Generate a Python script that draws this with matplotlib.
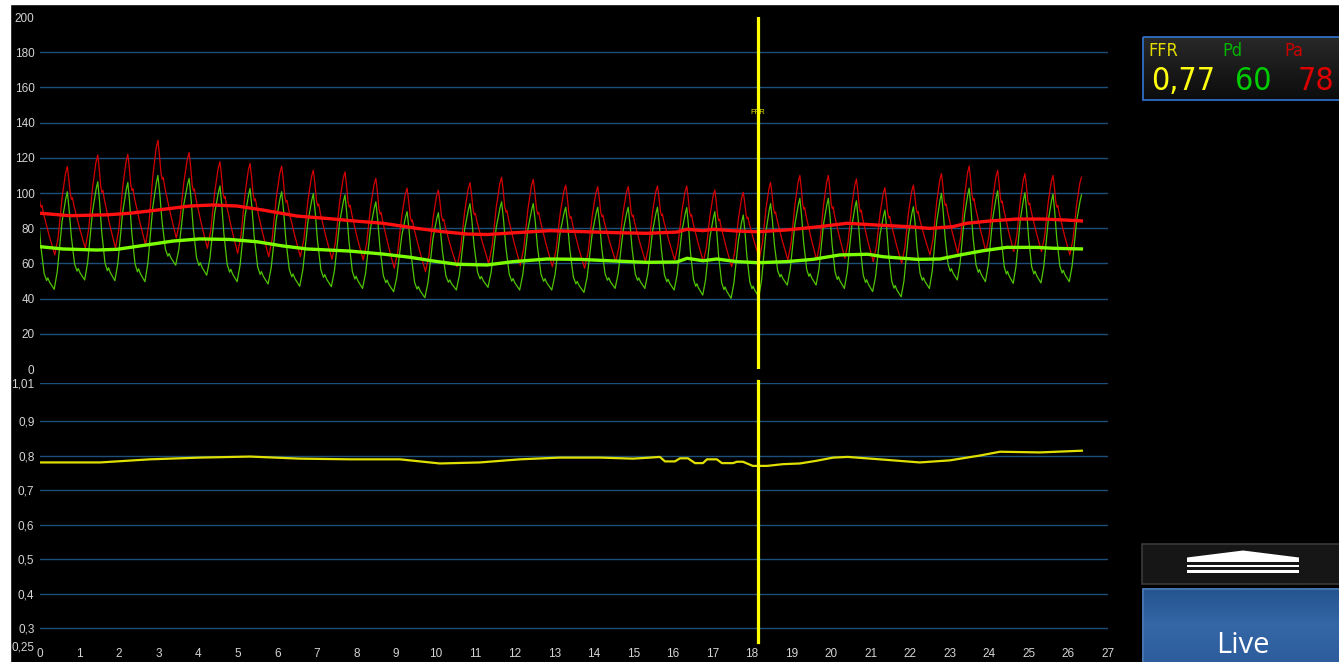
import matplotlib
matplotlib.use("Agg")
import matplotlib.pyplot as plt
from matplotlib.patches import Rectangle, Polygon
from matplotlib.colors import LinearSegmentedColormap
from matplotlib import font_manager
from matplotlib.font_manager import FontProperties
import numpy as np

# ---------------------------------------------------------------------------
# Beat-by-beat pressure data (mmHg); times in seconds of each systolic peak.
# Entry 0 is the beat whose downslope opens the recording.
# ---------------------------------------------------------------------------
peak_times = [-0.08, 0.69, 1.46, 2.22, 2.98, 3.77, 4.55, 5.31, 6.11, 6.91, 7.71,
              8.49, 9.28, 10.07, 10.87, 11.67, 12.47, 13.29, 14.10, 14.87, 15.61,
              16.35, 17.06, 17.78, 18.47, 19.21, 19.93, 20.64, 21.36, 22.08, 22.79,
              23.49, 24.21, 24.90, 25.61, 26.33]

pa_systolic = [110, 115, 121.6, 122, 130, 123, 117.8, 116.8, 115.3, 113, 112,
               108.4, 102.8, 101.7, 105.9, 109, 107.8, 104.5, 103.6, 103.6, 104,
               104, 101.7, 100.4, 106, 110, 110, 108, 103, 104.5, 111,
               115.3, 113, 111, 110, 109]
# diastolic minimum preceding peaks 1..35
pa_diastolic = [64.8, 68.6, 68.6, 70.5, 74.4, 68.6, 65.7, 63.8, 63.8, 62.3,
                61.9, 57.2, 55.3, 58.1, 60, 59, 58.1, 57.2, 61, 61,
                61.9, 61, 58.1, 62.9, 61.9, 61.9, 62.9, 61, 60, 64.8,
                65.7, 66.7, 66.7, 66.7, 64.8]

pd_systolic = [95, 100.7, 106.4, 106, 110, 108.3, 104, 102.6, 100.7, 99.6, 98.9,
               95, 89.4, 88.8, 94, 95, 94, 91.9, 91.9, 91.9, 91.9,
               91.7, 89.4, 87.5, 94, 97, 97, 95.6, 90.3, 92.2, 99.8,
               102.7, 101.3, 100.2, 99.4, 98.9]
pd_diastolic = [45.3, 50.6, 50.2, 49.6, 59, 53.3, 49.6, 48.3, 47, 46.8,
                45.8, 43.9, 40.5, 44.9, 46.4, 44.9, 44.9, 43.5, 45.8, 45.8,
                44.9, 42, 40.2, 41, 47.7, 47.7, 45.8, 44, 41, 45.8,
                50.6, 49.6, 48.7, 48.9, 49.6]

# Running means
mean_pa_t = [0.00, 0.76, 1.69, 2.28, 3.11, 3.79, 4.37, 4.98, 5.64, 6.50, 7.33,
             7.84, 8.67, 9.53, 10.19, 10.79, 11.30, 12.06, 12.89, 14.08, 14.48,
             15.34, 16.10, 16.36, 16.76, 17.01, 17.62, 18.15, 18.88, 19.72, 20.40,
             21.16, 21.92, 22.50, 23.08, 23.43, 24.01, 24.70, 25.35, 25.86, 26.37]
mean_pa = [88.5, 87.1, 87.6, 88.5, 90.7, 92.6, 93.2, 92.6, 90.3, 86.9, 85.4,
           84.3, 82.8, 79.9, 78.0, 76.7, 76.4, 77.5, 78.6, 77.8, 77.5,
           77.1, 77.8, 79.4, 78.6, 79.4, 78.4, 78.0, 79.0, 80.9, 82.8,
           81.8, 80.9, 79.9, 80.9, 82.8, 84.1, 85.2, 85.2, 84.7, 84.1]

mean_pd_t = [0.00, 0.58, 1.44, 1.95, 2.70, 3.36, 4.04, 4.80, 5.49, 6.14, 6.75,
             7.84, 8.67, 9.35, 9.93, 10.54, 11.30, 11.96, 12.82, 13.65, 14.48,
             15.34, 16.10, 16.36, 16.76, 17.11, 17.62, 18.15, 18.88, 19.54, 20.22,
             20.93, 21.31, 22.17, 22.75, 23.26, 23.84, 24.44, 25.20, 25.61, 26.37]
mean_pd = [69.5, 68.2, 67.6, 68.0, 70.5, 72.7, 73.9, 73.6, 72.3, 69.9, 68.2,
           67.0, 65.3, 63.5, 61.4, 59.5, 59.1, 61.0, 62.5, 62.3, 61.4,
           60.6, 60.8, 62.9, 61.5, 62.5, 61.0, 60.4, 61.0, 62.3, 64.8,
           65.2, 63.8, 62.3, 62.5, 64.8, 67.2, 69.1, 69.1, 68.6, 68.2]

ffr_t = [0.00, 1.52, 2.78, 4.04, 5.31, 6.57, 7.84, 9.10, 10.11, 11.12, 12.13,
         13.14, 14.16, 14.99, 15.42, 15.67, 15.80, 16.05, 16.18, 16.38, 16.56,
         16.76, 16.86, 17.11, 17.24, 17.52, 17.62, 17.77, 18.02, 18.38, 18.78,
         19.21, 19.64, 20.05, 20.42, 21.23, 22.24, 23.00, 23.76, 24.27, 25.28, 26.34]
ffr = [0.780, 0.780, 0.789, 0.794, 0.797, 0.791, 0.789, 0.789, 0.777, 0.780, 0.789,
       0.794, 0.794, 0.791, 0.794, 0.796, 0.783, 0.783, 0.792, 0.792, 0.778,
       0.778, 0.789, 0.789, 0.778, 0.778, 0.782, 0.782, 0.770, 0.770, 0.775,
       0.777, 0.785, 0.794, 0.796, 0.789, 0.780, 0.786, 0.800, 0.811, 0.809, 0.814]

cursor_time = 18.15
readout_ffr, readout_pd, readout_pa = "0,77", "60", "78"

pressure_ticks = list(range(0, 201, 20))
ffr_ticks = [0.25, 0.3, 0.4, 0.5, 0.6, 0.7, 0.8, 0.9, 1.01]
ffr_tick_labels = ["0,25", "0,3", "0,4", "0,5", "0,6", "0,7", "0,8", "0,9", "1,01"]
time_ticks = list(range(0, 28))

# ---------------------------------------------------------------------------
# Fonts: a condensed face for the readout, if one is installed
# ---------------------------------------------------------------------------
def find_condensed():
    preferred = []
    for f in font_manager.fontManager.ttflist:
        base = f.fname.rsplit("/", 1)[-1]
        if f.style != "normal" or f.weight not in (400, "normal", "regular"):
            continue
        if "LiberationSansNarrow-Regular" in base:
            preferred.append((0, f.fname))
        elif base == "DejaVuSansCondensed.ttf":
            preferred.append((1, f.fname))
        elif "Condensed" in base and "Bold" not in base and "Oblique" not in base \
                and "Italic" not in base:
            preferred.append((2, f.fname))
    if preferred:
        return FontProperties(fname=sorted(preferred)[0][1])
    return None


COND = find_condensed()
TICK_FAMILY = "Liberation Sans"
BUTTON_FONT = "Open Sans"


def cond_props(size):
    if COND is not None:
        p = COND.copy()
        p.set_size(size)
        return p
    return FontProperties(family="Liberation Sans", size=size * 0.8)


# ---------------------------------------------------------------------------
# Beat shapes: (phase within peak-to-peak interval, fraction of amplitude)
# ---------------------------------------------------------------------------
PA_FALL = [(0.05, 0.85), (0.10, 0.66), (0.14, 0.60), (0.17, 0.62), (0.22, 0.52),
           (0.40, 0.25), (0.59, 0.0)]
PA_RISE = [(0.70, 0.20), (0.83, 0.65), (0.94, 0.92), (1.0, 1.0)]
PD_FALL = [(0.06, 0.80), (0.13, 0.50), (0.24, 0.18), (0.32, 0.10), (0.36, 0.13),
           (0.42, 0.08), (0.57, 0.0)]
PD_RISE = [(0.67, 0.18), (0.83, 0.70), (0.95, 0.93), (1.0, 1.0)]


def beat_trace(times, peaks, troughs, fall, rise):
    t, v = [times[0]], [peaks[0]]
    for i in range(len(times) - 1):
        t0, t1 = times[i], times[i + 1]
        period = t1 - t0
        lo = troughs[i]
        for f, a in fall:
            t.append(t0 + f * period)
            v.append(lo + a * (peaks[i] - lo))
        for f, a in rise:
            t.append(t0 + f * period)
            v.append(lo + a * (peaks[i + 1] - lo))
    return t, v


# ---------------------------------------------------------------------------
# Figure
# ---------------------------------------------------------------------------
W, H = 1339, 662
fig = plt.figure(figsize=(W / 100, H / 100), dpi=100, facecolor="black")

bg = fig.add_axes([0, 0, 1, 1])
bg.set_xlim(0, W)
bg.set_ylim(H, 0)
bg.axis("off")
bg.add_patch(Rectangle((0, 0), 10, H, color="white", zorder=0))
bg.add_patch(Rectangle((0, 0), W, 4, color="white", zorder=0))


def px_axes(left, top, right, bottom):
    return fig.add_axes([left / W, 1 - bottom / H, (right - left) / W, (bottom - top) / H])


GRID = "#1d4d78"
TICK = "#d4d4d4"

ax1 = px_axes(40, 17, 1108, 369)
ax2 = px_axes(40, 383, 1108, 645.5)
for ax in (ax1, ax2):
    ax.set_facecolor("none")
    for s in ax.spines.values():
        s.set_visible(False)
    ax.set_xlim(0, 27)
    ax.tick_params(length=0, colors=TICK, labelsize=8.5, pad=4)

# Pressure panel
ax1.set_ylim(0, 200)
ax1.set_yticks(pressure_ticks)
ax1.set_yticklabels([str(v) for v in pressure_ticks], family=TICK_FAMILY)
ax1.set_xticks([])
for v in pressure_ticks[1:-1]:
    ax1.axhline(v, color=GRID, lw=1, zorder=1)

pd_t, pd_v = beat_trace(peak_times, pd_systolic, pd_diastolic, PD_FALL, PD_RISE)
pa_t, pa_v = beat_trace(peak_times, pa_systolic, pa_diastolic, PA_FALL, PA_RISE)
ax1.plot(pd_t, pd_v, color="#4fc400", lw=0.9, zorder=2)
ax1.plot(pa_t, pa_v, color="#d40000", lw=0.9, zorder=3)
ax1.plot(mean_pd_t, mean_pd, color="#7cff00", lw=2.4, zorder=4, solid_capstyle="butt")
ax1.plot(mean_pa_t, mean_pa, color="#ff1010", lw=2.4, zorder=5, solid_capstyle="butt")
ax1.axvline(cursor_time, color="#ffff00", lw=2.3, zorder=6)
ax1.text(cursor_time, 146, "FFR", color="#e8e800", fontsize=5.5, ha="center",
         va="center", family=TICK_FAMILY, zorder=7)

# FFR panel
ax2.set_ylim(0.25, 1.01)
ax2.set_yticks(ffr_ticks)
ax2.set_yticklabels(ffr_tick_labels, family=TICK_FAMILY)
ax2.set_xticks(time_ticks)
ax2.set_xticklabels([str(v) for v in time_ticks], family=TICK_FAMILY)
ax2.tick_params(axis="x", pad=1.5)
for v in ffr_ticks[1:]:
    ax2.axhline(v, color=GRID, lw=1, zorder=1)
ax2.plot(ffr_t, ffr, color="#e0e000", lw=1.6, zorder=3)
ax2.axvline(cursor_time, ymin=0.013, ymax=1.008, color="#ffff00", lw=2.3,
            zorder=6, clip_on=False)

# ---------------------------------------------------------------------------
# Readout box
# ---------------------------------------------------------------------------
grad = np.linspace(0.16, 0.05, 64).reshape(-1, 1)
bg.imshow(grad, cmap="gray", vmin=0, vmax=1, extent=(1143, W + 2, 99, 37),
          aspect="auto", zorder=1)
bg.add_patch(Rectangle((1142.5, 36.5), 200, 63, facecolor="none",
                       edgecolor="#2f6fc4", lw=1.3, zorder=2))
small = cond_props(13)
big = cond_props(23)
bg.text(1148, 56, "FFR", color="#e6de00", fontproperties=small, zorder=3)
bg.text(1222, 56, "Pd", color="#00b400", fontproperties=small, zorder=3)
bg.text(1284, 56, "Pa", color="#cc0000", fontproperties=small, zorder=3)
bg.text(1151, 90, readout_ffr, color="#ffff10", fontproperties=big, zorder=3)
bg.text(1235, 90, readout_pd, color="#00cc00", fontproperties=big, zorder=3)
bg.text(1298, 90, readout_pa, color="#dd0000", fontproperties=big, zorder=3)

# ---------------------------------------------------------------------------
# Scroll button and Live button
# ---------------------------------------------------------------------------
bg.add_patch(Rectangle((1142, 544), 200, 40, facecolor="#161616",
                       edgecolor="#3a3a3a", lw=1.2, zorder=1))
bg.add_patch(Polygon([(1187, 562), (1187, 557.5), (1243, 550.5), (1299, 557.5), (1299, 562)],
                     closed=True, facecolor="white", edgecolor="none", zorder=2))
bg.add_patch(Rectangle((1187, 564.5), 112, 2.6, facecolor="white", zorder=2))
bg.add_patch(Rectangle((1187, 570.2), 112, 2.6, facecolor="white", zorder=2))

blue = np.linspace(0, 1, 64).reshape(-1, 1)
blue_cmap = LinearSegmentedColormap.from_list("btn", ["#24558f", "#3566a6", "#2d5d9c"])
bg.imshow(blue, cmap=blue_cmap, extent=(1142, W + 2, H, 588), aspect="auto", zorder=1)
bg.add_patch(Rectangle((1142.5, 588.5), 200, 80, facecolor="none",
                       edgecolor="#4a78b4", lw=1.2, zorder=2))
bg.text(1243, 660, "Live", color="white", fontsize=21, family=BUTTON_FONT,
        ha="center", va="bottom", zorder=3)

bg.set_xlim(0, W)
bg.set_ylim(H, 0)

fig.savefig("out.png", dpi=100, facecolor="black")
